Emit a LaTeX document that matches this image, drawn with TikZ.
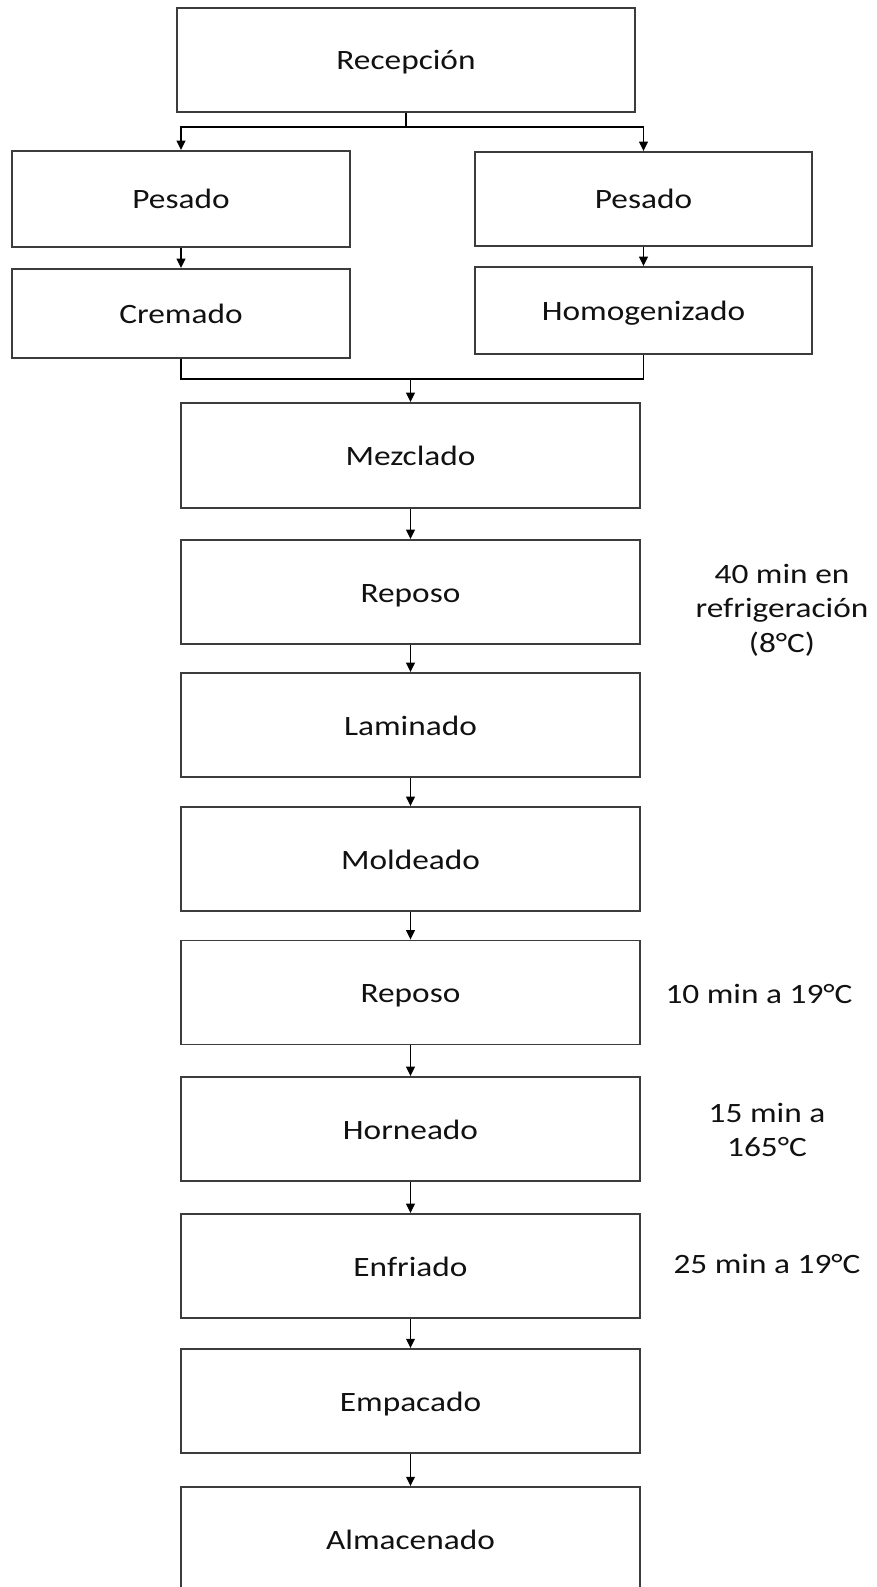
\documentclass[tikz,border=0pt]{standalone}
\usepackage{fontspec}
\setmainfont[FakeStretch=1.19]{Carlito}
\usetikzlibrary{arrows.meta}
\definecolor{boxline}{HTML}{3C3C3C}
\definecolor{txt}{HTML}{111111}
\begin{document}
\begin{tikzpicture}[x=0.75pt,y=-0.75pt,
  box/.style={draw=boxline, line width=1.4pt, fill=white, inner sep=0pt, text=txt,
    font=\fontsize{21}{26}\selectfont, text height=15pt, text depth=0pt},
  mainbox/.style={box, minimum width=344.25pt, minimum height=78pt},
  conn/.style={draw=black, line width=1pt},
  arr/.style={conn, -{Triangle[length=7pt,width=6.5pt]}},
  note/.style={text=txt, font=\fontsize{21}{26}\selectfont, align=center, inner sep=0pt}]
\clip (0,0) rectangle (877,1587);
% top part
\node[box, minimum width=343.5pt, minimum height=78pt] (rec) at (406,60) {Recepción};
\node[box, minimum width=253.5pt, minimum height=72pt] (pesL) at (181,199) {Pesado};
\node[box, minimum width=252.75pt, minimum height=70.5pt] (pesR) at (643.5,199) {Pesado};
\node[box, minimum width=253.5pt, minimum height=66.75pt] (crem) at (181,313.5) {Cremado};
\node[box, minimum width=252.75pt, minimum height=65.25pt] (homo) at (643.5,310.5) {Homogenizado};
% main column
\node[mainbox, minimum height=78.75pt] (mez) at (410.5,455.5) {Mezclado};
\node[mainbox] (rep1) at (410.5,592) {Reposo};
\node[mainbox] (lam) at (410.5,725) {Laminado};
\node[mainbox] (mol) at (410.5,859) {Moldeado};
\node[mainbox] (rep2) at (410.5,992.5) {Reposo};
\node[mainbox] (hor) at (410.5,1129) {Horneado};
\node[mainbox] (enf) at (410.5,1266) {Enfriado};
\node[mainbox] (emp) at (410.5,1401) {Empacado};
\node[mainbox] (alm) at (410.5,1539) {Almacenado};
% notes
\node[note] (n1) at (782,610) {40 min en\\refrigeración\\(8°C)};
\node[note] (n2) at (759,994) {10 min a 19°C};
\node[note] (n3) at (767,1130) {15 min a\\165°C};
\node[note] (n4) at (767,1264) {25 min a 19°C};
% connectors
\coordinate (split) at (406,127);
\coordinate (merge) at (410.5,379);
\draw[conn] (rec.south) -- (split);
\draw[arr] (split) -| (pesL.north);
\draw[arr] (split) -| (pesR.north);
\draw[arr] (pesL) -- (crem);
\draw[arr] (pesR) -- (homo);
\draw[conn] (crem.south) |- (merge);
\draw[conn] (homo.south) |- (merge);
\draw[arr] (merge) -- (mez.north);
\draw[arr] (mez) -- (rep1);
\draw[arr] (rep1) -- (lam);
\draw[arr] (lam) -- (mol);
\draw[arr] (mol) -- (rep2);
\draw[arr] (rep2) -- (hor);
\draw[arr] (hor) -- (enf);
\draw[arr] (enf) -- (emp);
\draw[arr] (emp) -- (alm);
\end{tikzpicture}
\end{document}
